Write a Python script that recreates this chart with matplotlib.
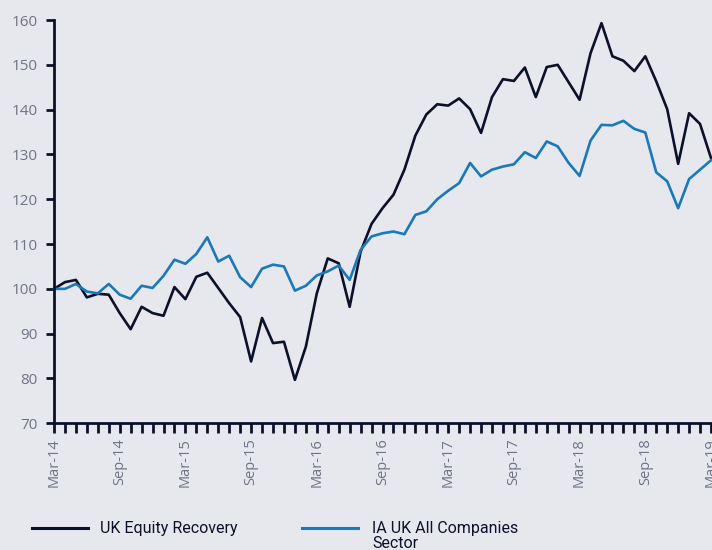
import numpy as np
import matplotlib
matplotlib.use("Agg")
import matplotlib.pyplot as plt
from matplotlib.lines import Line2D

# Monthly values, Mar-14 .. Mar-19 (rebased to 100)
ukEquityRecovery = [
    100.0, 101.5, 102.0, 98.1, 98.9, 98.7, 94.6, 91.0, 96.0, 94.6,
    94.0, 100.4, 97.7, 102.7, 103.6, 100.2, 96.8, 93.7, 83.8, 93.5,
    87.9, 88.2, 79.7, 87.1, 99.0, 106.8, 105.7, 96.0, 108.3, 114.5,
    118.0, 121.0, 126.6, 134.2, 138.9, 141.2, 140.9, 142.5, 140.1, 134.8,
    142.8, 146.8, 146.4, 149.4, 142.8, 149.5, 150.0, 146.1, 142.2, 152.6,
    159.3, 151.9, 150.9, 148.6, 151.9, 146.3, 140.1, 127.9, 139.2, 136.8,
    129.2,
]
iaUkAllCompanies = [
    100.0, 100.0, 101.1, 99.4, 99.0, 101.1, 98.7, 97.8, 100.7, 100.2,
    102.9, 106.5, 105.6, 107.8, 111.5, 106.1, 107.4, 102.6, 100.4, 104.5,
    105.4, 105.0, 99.6, 100.7, 103.0, 103.9, 105.2, 102.0, 108.7, 111.7,
    112.4, 112.8, 112.2, 116.5, 117.3, 120.0, 121.9, 123.6, 128.1, 125.1,
    126.6, 127.3, 127.8, 130.5, 129.2, 132.9, 131.8, 128.1, 125.2, 133.1,
    136.6, 136.5, 137.5, 135.7, 134.9, 126.0, 124.0, 118.0, 124.5, 126.6,
    128.7,
]
tickLabels = ["Mar-14", "Sep-14", "Mar-15", "Sep-15", "Mar-16", "Sep-16",
              "Mar-17", "Sep-17", "Mar-18", "Sep-18", "Mar-19"]
yTicks = list(range(70, 161, 10))

bg = "#e6e8ee"
navy = "#0b1128"
blue = "#1a79b8"
grey = "#6e7486"

fig = plt.figure(figsize=(7.12, 5.5), dpi=100, facecolor=bg)
ax = fig.add_axes([54 / 712, 1 - 423.3 / 550, 657 / 712, 403.3 / 550])
ax.set_facecolor(bg)

months = np.arange(len(ukEquityRecovery))
ax.plot(months, ukEquityRecovery, color=navy, lw=1.9, clip_on=False)
ax.plot(months, iaUkAllCompanies, color=blue, lw=1.9, clip_on=False)

ax.set_xlim(0, 60)
ax.set_ylim(70, 160)
ax.set_yticks(yTicks)
ax.set_xticks(np.arange(0, 61, 6))
ax.set_xticklabels(tickLabels, rotation=90)
ax.set_xticks(np.arange(0, 61, 1), minor=True)

for s in ["top", "right"]:
    ax.spines[s].set_visible(False)
for s in ["left", "bottom"]:
    ax.spines[s].set_color(navy)
    ax.spines[s].set_linewidth(2)

ax.tick_params(axis="y", colors=navy, width=2, length=6, labelcolor=grey,
               labelsize=11, pad=6)
ax.tick_params(axis="x", which="both", colors=navy, width=2, length=7,
               labelcolor=grey, labelsize=10.5, pad=4)
for lbl in ax.get_xticklabels() + ax.get_yticklabels():
    lbl.set_family("Open Sans")

# legend drawn below the plot
fig.add_artist(Line2D([32 / 712, 88 / 712], [1 - 528 / 550] * 2, color=navy, lw=2.2))
fig.add_artist(Line2D([302 / 712, 358 / 712], [1 - 528 / 550] * 2, color=blue, lw=2.2))
legFont = ["Roboto", "DejaVu Sans"]
fig.text(100 / 712, 1 - 528 / 550, "UK Equity Recovery", color=navy, fontsize=11.5,
         family=legFont, va="center")
fig.text(372 / 712, 1 - 536 / 550, "IA UK All Companies\nSector", color=navy,
         fontsize=11.5, family=legFont, va="center", linespacing=0.95)

fig.savefig("out.png", dpi=100, facecolor=bg)
